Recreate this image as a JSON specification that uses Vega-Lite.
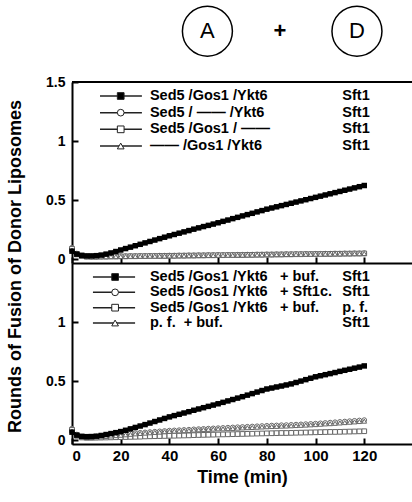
{
  "$schema": "https://vega.github.io/schema/vega-lite/v6.json",
  "padding": {"left": 5, "top": 3, "right": 0, "bottom": 5},
  "spacing": 0,
  "bounds": "flush",
  "config": {
    "view": {"stroke": null},
    "font": "Liberation Sans",
    "axis": {
      "grid": false,
      "labelFont": "Liberation Sans",
      "labelFontWeight": "bold",
      "labelFontSize": 14,
      "labelColor": "black",
      "labelPadding": 13,
      "domainColor": "black",
      "domainWidth": 2,
      "tickColor": "black",
      "tickWidth": 2,
      "tickSize": -6,
      "titleFont": "Liberation Sans",
      "titleFontWeight": "bold",
      "titleFontSize": 18,
      "titleColor": "black"
    }
  },
  "datasets": {
    "top": [
      {"t":0,"a":0.07,"b":0.10,"c":0.09,"d":0.08},
      {"t":2,"a":0.045,"b":0.05,"c":0.045,"d":0.04},
      {"t":4,"a":0.035,"b":0.03,"c":0.028,"d":0.026},
      {"t":6,"a":0.03,"b":0.026,"c":0.024,"d":0.023},
      {"t":8,"a":0.03,"b":0.025,"c":0.023,"d":0.022},
      {"t":10,"a":0.032,"b":0.025,"c":0.023,"d":0.022},
      {"t":12,"a":0.037,"b":0.026,"c":0.024,"d":0.023},
      {"t":14,"a":0.045,"b":0.026,"c":0.024,"d":0.023},
      {"t":16,"a":0.055,"b":0.027,"c":0.025,"d":0.024},
      {"t":18,"a":0.067,"b":0.027,"c":0.025,"d":0.024},
      {"t":20,"a":0.08,"b":0.028,"c":0.026,"d":0.025},
      {"t":22,"a":0.092,"b":0.028,"c":0.026,"d":0.025},
      {"t":24,"a":0.104,"b":0.029,"c":0.027,"d":0.026},
      {"t":26,"a":0.116,"b":0.029,"c":0.027,"d":0.026},
      {"t":28,"a":0.128,"b":0.03,"c":0.028,"d":0.027},
      {"t":30,"a":0.14,"b":0.03,"c":0.028,"d":0.027},
      {"t":32,"a":0.152,"b":0.031,"c":0.029,"d":0.028},
      {"t":34,"a":0.164,"b":0.031,"c":0.029,"d":0.028},
      {"t":36,"a":0.176,"b":0.032,"c":0.03,"d":0.029},
      {"t":38,"a":0.188,"b":0.032,"c":0.03,"d":0.029},
      {"t":40,"a":0.2,"b":0.033,"c":0.031,"d":0.03},
      {"t":42,"a":0.211,"b":0.033,"c":0.031,"d":0.03},
      {"t":44,"a":0.222,"b":0.034,"c":0.032,"d":0.031},
      {"t":46,"a":0.233,"b":0.034,"c":0.032,"d":0.031},
      {"t":48,"a":0.244,"b":0.035,"c":0.033,"d":0.032},
      {"t":50,"a":0.256,"b":0.035,"c":0.033,"d":0.032},
      {"t":52,"a":0.267,"b":0.036,"c":0.034,"d":0.033},
      {"t":54,"a":0.278,"b":0.036,"c":0.034,"d":0.033},
      {"t":56,"a":0.288,"b":0.037,"c":0.035,"d":0.034},
      {"t":58,"a":0.299,"b":0.037,"c":0.035,"d":0.034},
      {"t":60,"a":0.31,"b":0.038,"c":0.036,"d":0.035},
      {"t":62,"a":0.322,"b":0.038,"c":0.036,"d":0.035},
      {"t":64,"a":0.333,"b":0.039,"c":0.037,"d":0.036},
      {"t":66,"a":0.345,"b":0.039,"c":0.037,"d":0.036},
      {"t":68,"a":0.356,"b":0.04,"c":0.038,"d":0.037},
      {"t":70,"a":0.368,"b":0.04,"c":0.038,"d":0.037},
      {"t":72,"a":0.379,"b":0.041,"c":0.039,"d":0.038},
      {"t":74,"a":0.39,"b":0.041,"c":0.039,"d":0.038},
      {"t":76,"a":0.402,"b":0.042,"c":0.04,"d":0.039},
      {"t":78,"a":0.413,"b":0.042,"c":0.04,"d":0.039},
      {"t":80,"a":0.425,"b":0.043,"c":0.041,"d":0.04},
      {"t":82,"a":0.435,"b":0.043,"c":0.041,"d":0.04},
      {"t":84,"a":0.445,"b":0.044,"c":0.042,"d":0.041},
      {"t":86,"a":0.455,"b":0.044,"c":0.042,"d":0.041},
      {"t":88,"a":0.465,"b":0.045,"c":0.043,"d":0.042},
      {"t":90,"a":0.475,"b":0.045,"c":0.043,"d":0.042},
      {"t":92,"a":0.485,"b":0.046,"c":0.044,"d":0.043},
      {"t":94,"a":0.495,"b":0.046,"c":0.044,"d":0.043},
      {"t":96,"a":0.505,"b":0.047,"c":0.045,"d":0.044},
      {"t":98,"a":0.515,"b":0.047,"c":0.045,"d":0.044},
      {"t":100,"a":0.525,"b":0.048,"c":0.046,"d":0.045},
      {"t":102,"a":0.535,"b":0.048,"c":0.046,"d":0.045},
      {"t":104,"a":0.545,"b":0.049,"c":0.047,"d":0.046},
      {"t":106,"a":0.555,"b":0.049,"c":0.047,"d":0.046},
      {"t":108,"a":0.565,"b":0.05,"c":0.048,"d":0.047},
      {"t":110,"a":0.575,"b":0.05,"c":0.048,"d":0.047},
      {"t":112,"a":0.585,"b":0.051,"c":0.049,"d":0.048},
      {"t":114,"a":0.595,"b":0.051,"c":0.049,"d":0.048},
      {"t":116,"a":0.605,"b":0.052,"c":0.05,"d":0.049},
      {"t":118,"a":0.615,"b":0.052,"c":0.05,"d":0.049},
      {"t":120,"a":0.625,"b":0.053,"c":0.051,"d":0.05}
    ],
    "bottom": [
      {"t":0,"a":0.07,"b":0.1,"c":0.09,"d":0.08},
      {"t":2,"a":0.045,"b":0.05,"c":0.04,"d":0.04},
      {"t":4,"a":0.035,"b":0.03,"c":0.025,"d":0.027},
      {"t":6,"a":0.032,"b":0.028,"c":0.022,"d":0.025},
      {"t":8,"a":0.033,"b":0.03,"c":0.022,"d":0.026},
      {"t":10,"a":0.036,"b":0.033,"c":0.023,"d":0.028},
      {"t":12,"a":0.042,"b":0.036,"c":0.024,"d":0.03},
      {"t":14,"a":0.05,"b":0.04,"c":0.025,"d":0.034},
      {"t":16,"a":0.058,"b":0.044,"c":0.026,"d":0.038},
      {"t":18,"a":0.066,"b":0.047,"c":0.027,"d":0.041},
      {"t":20,"a":0.075,"b":0.05,"c":0.028,"d":0.044},
      {"t":22,"a":0.086,"b":0.054,"c":0.029,"d":0.048},
      {"t":24,"a":0.098,"b":0.058,"c":0.03,"d":0.052},
      {"t":26,"a":0.11,"b":0.062,"c":0.031,"d":0.056},
      {"t":28,"a":0.122,"b":0.065,"c":0.032,"d":0.059},
      {"t":30,"a":0.134,"b":0.068,"c":0.034,"d":0.062},
      {"t":32,"a":0.147,"b":0.071,"c":0.035,"d":0.065},
      {"t":34,"a":0.16,"b":0.074,"c":0.036,"d":0.068},
      {"t":36,"a":0.173,"b":0.077,"c":0.037,"d":0.071},
      {"t":38,"a":0.186,"b":0.08,"c":0.038,"d":0.074},
      {"t":40,"a":0.199,"b":0.083,"c":0.039,"d":0.077},
      {"t":42,"a":0.21,"b":0.085,"c":0.04,"d":0.079},
      {"t":44,"a":0.221,"b":0.087,"c":0.041,"d":0.081},
      {"t":46,"a":0.232,"b":0.089,"c":0.042,"d":0.083},
      {"t":48,"a":0.243,"b":0.091,"c":0.043,"d":0.085},
      {"t":50,"a":0.255,"b":0.094,"c":0.045,"d":0.088},
      {"t":52,"a":0.266,"b":0.096,"c":0.046,"d":0.09},
      {"t":54,"a":0.277,"b":0.098,"c":0.047,"d":0.092},
      {"t":56,"a":0.288,"b":0.1,"c":0.048,"d":0.094},
      {"t":58,"a":0.299,"b":0.102,"c":0.049,"d":0.096},
      {"t":60,"a":0.31,"b":0.104,"c":0.05,"d":0.098},
      {"t":62,"a":0.322,"b":0.106,"c":0.051,"d":0.098},
      {"t":64,"a":0.334,"b":0.108,"c":0.052,"d":0.1},
      {"t":66,"a":0.346,"b":0.11,"c":0.053,"d":0.102},
      {"t":68,"a":0.358,"b":0.112,"c":0.054,"d":0.104},
      {"t":70,"a":0.37,"b":0.114,"c":0.055,"d":0.106},
      {"t":72,"a":0.383,"b":0.116,"c":0.056,"d":0.108},
      {"t":74,"a":0.396,"b":0.118,"c":0.057,"d":0.11},
      {"t":76,"a":0.409,"b":0.12,"c":0.058,"d":0.112},
      {"t":78,"a":0.422,"b":0.122,"c":0.059,"d":0.114},
      {"t":80,"a":0.435,"b":0.124,"c":0.06,"d":0.116},
      {"t":82,"a":0.443,"b":0.126,"c":0.061,"d":0.118},
      {"t":84,"a":0.452,"b":0.127,"c":0.062,"d":0.119},
      {"t":86,"a":0.46,"b":0.129,"c":0.063,"d":0.121},
      {"t":88,"a":0.469,"b":0.13,"c":0.063,"d":0.122},
      {"t":90,"a":0.478,"b":0.132,"c":0.064,"d":0.124},
      {"t":92,"a":0.49,"b":0.134,"c":0.065,"d":0.126},
      {"t":94,"a":0.502,"b":0.136,"c":0.066,"d":0.128},
      {"t":96,"a":0.514,"b":0.138,"c":0.067,"d":0.13},
      {"t":98,"a":0.526,"b":0.14,"c":0.068,"d":0.132},
      {"t":100,"a":0.538,"b":0.142,"c":0.069,"d":0.134},
      {"t":102,"a":0.547,"b":0.145,"c":0.07,"d":0.137},
      {"t":104,"a":0.556,"b":0.148,"c":0.071,"d":0.14},
      {"t":106,"a":0.565,"b":0.151,"c":0.072,"d":0.142},
      {"t":108,"a":0.574,"b":0.154,"c":0.072,"d":0.145},
      {"t":110,"a":0.584,"b":0.157,"c":0.073,"d":0.148},
      {"t":112,"a":0.593,"b":0.16,"c":0.074,"d":0.151},
      {"t":114,"a":0.602,"b":0.163,"c":0.075,"d":0.154},
      {"t":116,"a":0.611,"b":0.166,"c":0.076,"d":0.157},
      {"t":118,"a":0.62,"b":0.169,"c":0.077,"d":0.16},
      {"t":120,"a":0.63,"b":0.172,"c":0.078,"d":0.163}
    ],
    "legendTop": [
      {"series":"a","label":"Sed5 /Gos1 /Ykt6","right":"Sft1"},
      {"series":"b","label":"Sed5 / —— /Ykt6","right":"Sft1"},
      {"series":"c","label":"Sed5 /Gos1 / ——","right":"Sft1"},
      {"series":"d","label":"—— /Gos1 /Ykt6","right":"Sft1"}
    ],
    "legendBottom": [
      {"series":"a","label":"Sed5 /Gos1 /Ykt6","extra":"+ buf.","right":"Sft1"},
      {"series":"b","label":"Sed5 /Gos1 /Ykt6","extra":"+ Sft1c.","right":"Sft1"},
      {"series":"c","label":"Sed5 /Gos1 /Ykt6","extra":"+ buf.","right":"p. f."},
      {"series":"d","label":"p. f.\u00a0\u00a0+ buf.","extra":"","right":"Sft1"}
    ]
  },
  "vconcat": [
    {
      "width": 340,
      "height": 181,
      "layer": [
        {
          "layer": [
            {
              "data": {"values": [{"label": "A"}]},
              "mark": {"type": "point", "shape": "circle", "size": 2500, "filled": false, "stroke": "black", "strokeWidth": 1.5, "opacity": 1},
              "encoding": {"x": {"datum": 55.6}, "y": {"datum": 1.93}}
            },
            {
              "data": {"values": [{"label": "D"}]},
              "mark": {"type": "point", "shape": "circle", "size": 2500, "filled": false, "stroke": "black", "strokeWidth": 1.5, "opacity": 1},
              "encoding": {"x": {"datum": 117}, "y": {"datum": 1.93}}
            },
            {
              "data": {"values": [{"label": "A"}]},
              "mark": {"type": "text", "fontSize": 22, "font": "Liberation Sans", "align": "center", "baseline": "middle", "color": "black"},
              "encoding": {"x": {"datum": 55.6}, "y": {"datum": 1.93}, "text": {"field": "label"}}
            },
            {
              "data": {"values": [{"label": "+"}]},
              "mark": {"type": "text", "fontSize": 22, "fontWeight": "bold", "font": "Liberation Sans", "align": "center", "baseline": "middle", "color": "black"},
              "encoding": {"x": {"datum": 85.4}, "y": {"datum": 1.93}, "text": {"field": "label"}}
            },
            {
              "data": {"values": [{"label": "D"}]},
              "mark": {"type": "text", "fontSize": 22, "font": "Liberation Sans", "align": "center", "baseline": "middle", "color": "black"},
              "encoding": {"x": {"datum": 117}, "y": {"datum": 1.93}, "text": {"field": "label"}}
            },
            {
              "data": {"values": [{}]},
              "mark": {"type": "rule", "stroke": "black", "strokeWidth": 2},
              "encoding": {"y": {"datum": 1.5}}
            },
            {
              "data": {"name": "top"},
              "transform": [{"fold": ["b", "c", "d"], "as": ["series", "value"]}],
              "layer": [
                {
                  "mark": {"type": "line", "stroke": "#888", "strokeWidth": 1},
                  "encoding": {
                    "x": {"field": "t", "type": "quantitative", "scale": {"domain": [0, 139.6], "nice": false}, "axis": {"values": [0, 20, 40, 60, 80, 100, 120], "labels": false, "title": null}},
                    "y": {"field": "value", "type": "quantitative", "scale": {"domain": [-0.03, 1.5], "nice": false, "zero": false}, "axis": {"values": [0, 0.5, 1, 1.5], "format": "~g", "title": null}},
                    "detail": {"field": "series"}
                  }
                },
                {
                  "mark": {"type": "point", "filled": true, "fill": "white", "stroke": "#666", "strokeWidth": 1, "size": 22, "opacity": 1},
                  "encoding": {
                    "x": {"field": "t", "type": "quantitative"},
                    "y": {"field": "value", "type": "quantitative"},
                    "shape": {"field": "series", "type": "nominal", "scale": {"domain": ["a", "b", "c", "d"], "range": ["square", "circle", "square", "triangle-up"]}, "legend": null}
                  }
                }
              ]
            },
            {
              "data": {"name": "top"},
              "layer": [
                {
                  "mark": {"type": "line", "stroke": "black", "strokeWidth": 3.5},
                  "encoding": {"x": {"field": "t", "type": "quantitative"}, "y": {"field": "a", "type": "quantitative"}}
                },
                {
                  "mark": {"type": "point", "shape": "square", "filled": true, "fill": "black", "size": 30, "opacity": 1},
                  "encoding": {"x": {"field": "t", "type": "quantitative"}, "y": {"field": "a", "type": "quantitative"}}
                }
              ]
            }
          ]
        },
        {
          "data": {"name": "legendTop"},
          "encoding": {
            "y": {"field": "series", "type": "nominal", "scale": {"type": "point", "domain": ["a", "b", "c", "d"], "range": [14, 64], "padding": 0}, "axis": null}
          },
          "layer": [
            {
              "mark": {"type": "rule", "stroke": "#222", "strokeWidth": 1.5},
              "encoding": {"x": {"datum": 11.5}, "x2": {"datum": 28.7}}
            },
            {
              "mark": {"type": "point", "filled": true, "size": 45, "stroke": "#222", "strokeWidth": 1, "opacity": 1},
              "encoding": {
                "x": {"datum": 20},
                "shape": {"field": "series", "type": "nominal", "scale": {"domain": ["a", "b", "c", "d"], "range": ["square", "circle", "square", "triangle-up"]}, "legend": null},
                "fill": {"field": "series", "type": "nominal", "scale": {"domain": ["a", "b", "c", "d"], "range": ["black", "white", "white", "white"]}, "legend": null}
              }
            },
            {
              "mark": {"type": "text", "align": "left", "baseline": "middle", "fontWeight": "bold", "fontSize": 14.5, "font": "Liberation Sans", "color": "black"},
              "encoding": {"x": {"datum": 32}, "text": {"field": "label"}}
            },
            {
              "mark": {"type": "text", "align": "left", "baseline": "middle", "fontWeight": "bold", "fontSize": 14.5, "font": "Liberation Sans", "color": "black"},
              "encoding": {"x": {"datum": 111}, "text": {"field": "right"}}
            }
          ]
        }
      ],
      "resolve": {"scale": {"y": "independent"}}
    },
    {
      "width": 340,
      "height": 181,
      "layer": [
        {
          "layer": [
            {
              "data": {"name": "bottom"},
              "transform": [{"fold": ["b", "c", "d"], "as": ["series", "value"]}],
              "layer": [
                {
                  "mark": {"type": "line", "stroke": "#888", "strokeWidth": 1},
                  "encoding": {
                    "x": {"field": "t", "type": "quantitative", "scale": {"domain": [0, 139.6], "nice": false}, "axis": {"values": [0, 20, 40, 60, 80, 100, 120], "title": "Time (min)", "labelFontSize": 15, "labelPadding": 10, "titlePadding": 5}},
                    "y": {"field": "value", "type": "quantitative", "scale": {"domain": [-0.03, 1.5], "nice": false, "zero": false}, "axis": {"values": [0, 0.5, 1], "format": "~g", "title": "Rounds of Fusion of Donor Liposomes", "titleX": -48, "titleY": 3}},
                    "detail": {"field": "series"}
                  }
                },
                {
                  "mark": {"type": "point", "filled": true, "fill": "white", "stroke": "#666", "strokeWidth": 1, "size": 22, "opacity": 1},
                  "encoding": {
                    "x": {"field": "t", "type": "quantitative"},
                    "y": {"field": "value", "type": "quantitative"},
                    "shape": {"field": "series", "type": "nominal", "scale": {"domain": ["a", "b", "c", "d"], "range": ["square", "circle", "square", "triangle-up"]}, "legend": null}
                  }
                }
              ]
            },
            {
              "data": {"name": "bottom"},
              "layer": [
                {
                  "mark": {"type": "line", "stroke": "black", "strokeWidth": 3.5},
                  "encoding": {"x": {"field": "t", "type": "quantitative"}, "y": {"field": "a", "type": "quantitative"}}
                },
                {
                  "mark": {"type": "point", "shape": "square", "filled": true, "fill": "black", "size": 30, "opacity": 1},
                  "encoding": {"x": {"field": "t", "type": "quantitative"}, "y": {"field": "a", "type": "quantitative"}}
                }
              ]
            }
          ]
        },
        {
          "data": {"name": "legendBottom"},
          "encoding": {
            "y": {"field": "series", "type": "nominal", "scale": {"type": "point", "domain": ["a", "b", "c", "d"], "range": [14, 60], "padding": 0}, "axis": null}
          },
          "layer": [
            {
              "mark": {"type": "rule", "stroke": "#222", "strokeWidth": 1.5},
              "encoding": {"x": {"datum": 8.6}, "x2": {"datum": 25.9}}
            },
            {
              "mark": {"type": "point", "filled": true, "size": 45, "stroke": "#222", "strokeWidth": 1, "opacity": 1},
              "encoding": {
                "x": {"datum": 17.7},
                "shape": {"field": "series", "type": "nominal", "scale": {"domain": ["a", "b", "c", "d"], "range": ["square", "circle", "square", "triangle-up"]}, "legend": null},
                "fill": {"field": "series", "type": "nominal", "scale": {"domain": ["a", "b", "c", "d"], "range": ["black", "white", "white", "white"]}, "legend": null}
              }
            },
            {
              "mark": {"type": "text", "align": "left", "baseline": "middle", "fontWeight": "bold", "fontSize": 14.5, "font": "Liberation Sans", "color": "black"},
              "encoding": {"x": {"datum": 32}, "text": {"field": "label"}}
            },
            {
              "mark": {"type": "text", "align": "left", "baseline": "middle", "fontWeight": "bold", "fontSize": 14.5, "font": "Liberation Sans", "color": "black"},
              "encoding": {"x": {"datum": 85.4}, "text": {"field": "extra"}}
            },
            {
              "mark": {"type": "text", "align": "left", "baseline": "middle", "fontWeight": "bold", "fontSize": 14.5, "font": "Liberation Sans", "color": "black"},
              "encoding": {"x": {"datum": 111}, "text": {"field": "right"}}
            }
          ]
        }
      ],
      "resolve": {"scale": {"y": "independent"}}
    }
  ]
}
